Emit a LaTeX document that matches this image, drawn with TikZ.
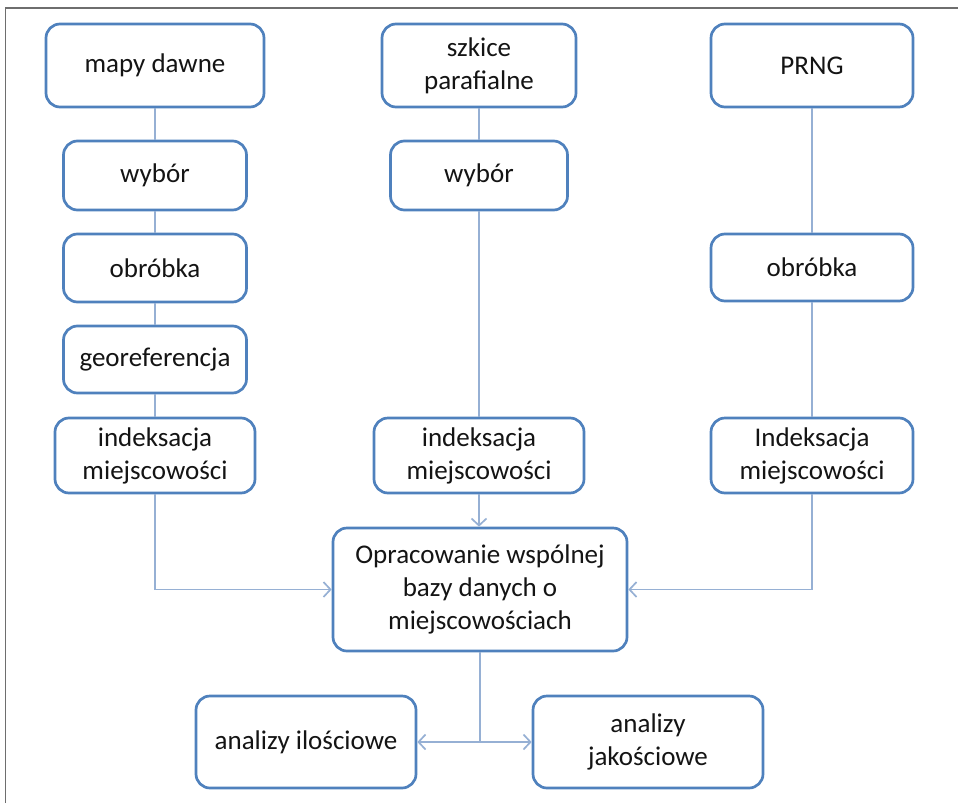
\documentclass[tikz,border=0pt]{standalone}
\usepackage{fontspec}
\setmainfont{Carlito}
\usetikzlibrary{arrows.meta}
\definecolor{boxblue}{RGB}{79,129,189}
\definecolor{linkblue}{RGB}{150,176,212}
\definecolor{framegray}{RGB}{110,110,110}
\definecolor{txt}{RGB}{20,20,20}
\begin{document}
\begin{tikzpicture}[x=1pt,y=-1pt,
  box/.style={draw=boxblue, line width=2.7pt, rounded corners=14pt, fill=white,
    align=center, inner sep=0pt, text=txt,
    font=\fontsize{27}{33}\selectfont},
  link/.style={draw=linkblue, line width=1.9pt},
  arr/.style={link, -{Straight Barb[length=7pt,width=15pt,line width=1.7pt]}}]
\useasboundingbox (0,0) rectangle (958,803);
\draw[framegray, line width=1.8pt] (5.5,803) -- (5.5,8) -- (958,8);

% left column
\node[box, minimum width=218pt, minimum height=83pt] (mapy) at (155,65.5) {mapy dawne};
\node[box, minimum width=183pt, minimum height=69pt] (wyb1) at (155,175.5) {wybór};
\node[box, minimum width=183pt, minimum height=68pt] (obr1) at (155,268) {obróbka};
\node[box, minimum width=183pt, minimum height=67pt] (geo) at (155,359.5) {georeferencja};
\node[box, minimum width=200pt, minimum height=75pt] (ind1) at (155,455.5) {indeksacja\\miejscowości};

% middle column
\node[box, minimum width=194pt, minimum height=83pt] (szk) at (479,65.5) {szkice\\parafialne};
\node[box, minimum width=177pt, minimum height=69pt] (wyb2) at (479,175.5) {wybór};
\node[box, minimum width=210pt, minimum height=75pt] (ind2) at (479,455.5) {indeksacja\\miejscowości};

% right column
\node[box, minimum width=202pt, minimum height=83pt] (prng) at (812,65.5) {PRNG};
\node[box, minimum width=202pt, minimum height=67pt] (obr3) at (812,267.5) {obróbka};
\node[box, minimum width=202pt, minimum height=75pt] (ind3) at (812,455.5) {Indeksacja\\miejscowości};

% central
\node[box, minimum width=294pt, minimum height=123pt] (op) at (480,589.5) {Opracowanie wspólnej\\bazy danych o\\miejscowościach};

% bottom
\node[box, minimum width=220pt, minimum height=92pt] (ail) at (306,742) {analizy ilościowe};
\node[box, minimum width=230pt, minimum height=92pt] (ajk) at (648,742) {analizy\\jakościowe};

% connectors
\draw[link] (mapy.south) -- (wyb1.north);
\draw[link] (wyb1.south) -- (obr1.north);
\draw[link] (obr1.south) -- (geo.north);
\draw[link] (geo.south) -- (ind1.north);
\draw[arr] (ind1.south) |- (op.west);

\draw[link] (szk.south) -- (wyb2.north);
\draw[link] (wyb2.south) -- (ind2.north);
\draw[arr] (ind2.south) -- (ind2.south |- op.north);

\draw[link] (prng.south) -- (obr3.north);
\draw[link] (obr3.south) -- (ind3.north);
\draw[arr] (ind3.south) |- (op.east);

\draw[arr] (op.south) |- (ail.east);
\draw[arr] (op.south) |- (ajk.west);
\end{tikzpicture}
\end{document}
